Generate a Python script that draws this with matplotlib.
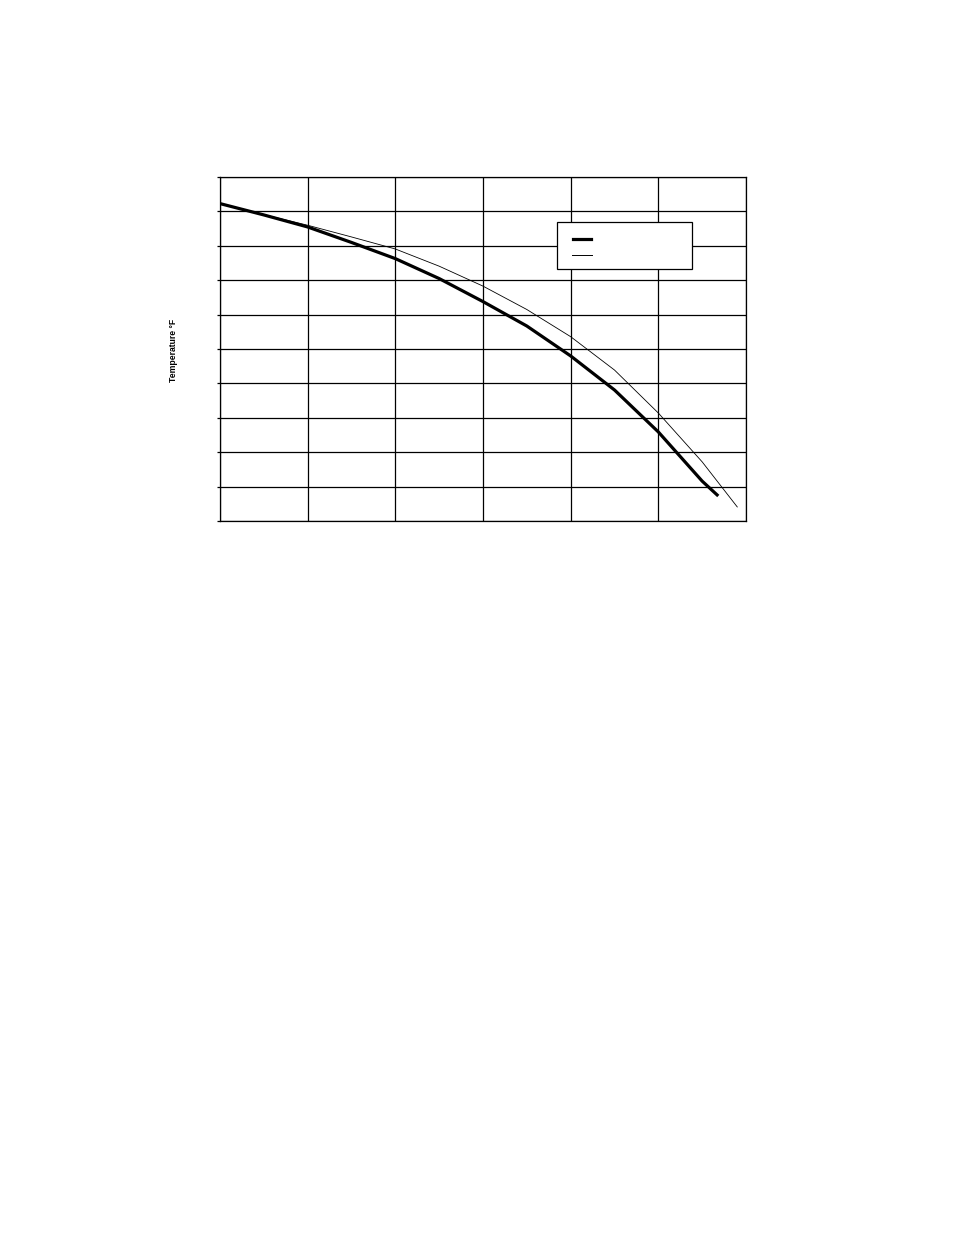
import matplotlib
matplotlib.use('Agg')
import matplotlib.pyplot as plt
from matplotlib.lines import Line2D
from matplotlib.patches import Rectangle

# grid units: 6 columns, 10 rows (no tick values printed on the chart)
x_thick = [0, 0.5, 1.0, 1.5, 2.0, 2.5, 3.0, 3.5, 4.0, 4.5, 5.0, 5.5, 5.67]
y_thick = [9.23, 8.90, 8.55, 8.10, 7.63, 7.05, 6.38, 5.67, 4.80, 3.81, 2.59, 1.16, 0.76]

x_thin = [0, 0.5, 1.0, 1.5, 2.0, 2.5, 3.0, 3.5, 4.0, 4.5, 5.0, 5.5, 5.90]
y_thin = [9.23, 8.91, 8.60, 8.26, 7.91, 7.41, 6.83, 6.15, 5.36, 4.39, 3.14, 1.72, 0.41]

x_grid = [0, 1, 2, 3, 4, 5, 6]
y_grid = [0, 1, 2, 3, 4, 5, 6, 7, 8, 9, 10]

fig = plt.figure(figsize=(9.54, 12.35), dpi=100)
ax = fig.add_axes([0.2306, 0.5781, 0.5514, 0.2785])

ax.plot(x_thick, y_thick, color='black', lw=2.3)
ax.plot(x_thin, y_thin, color='black', lw=0.6)

ax.set_xlim(0, 6)
ax.set_ylim(0, 10)
ax.set_xticks(x_grid)
ax.set_yticks(y_grid)
ax.grid(True, color='black', lw=0.9)
ax.set_axisbelow(True)
ax.tick_params(axis='y', length=2.5, width=0.9, direction='out', labelleft=False)
ax.tick_params(axis='x', length=0, labelbottom=False)
for s in ax.spines.values():
    s.set_linewidth(0.9)

fig.text(174 / 954, 1 - 350 / 1235, 'Temperature °F', rotation=90,
         fontsize=6.2, fontweight='bold', ha='center', va='center',
         family=['Liberation Sans Narrow', 'Liberation Sans', 'DejaVu Sans'])

# legend box (entries carry no text in the reference)
ax.add_patch(Rectangle((0.6407, 0.7326), 0.2566, 0.1366, transform=ax.transAxes,
                       facecolor='white', edgecolor='black', lw=0.9, zorder=5))
ax.add_line(Line2D([0.6711, 0.7053], [0.8198, 0.8198], transform=ax.transAxes,
                   color='black', lw=2.3, zorder=6))
ax.add_line(Line2D([0.6692, 0.7072], [0.7733, 0.7733], transform=ax.transAxes,
                   color='black', lw=0.7, zorder=6))

fig.savefig('out.png', dpi=100)
